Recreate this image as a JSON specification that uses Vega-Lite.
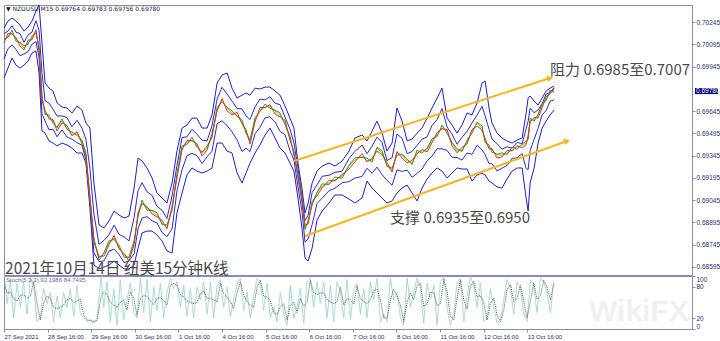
{
"$schema": "https://vega.github.io/schema/vega-lite/v6.json",
"padding": {"left": 1, "top": 2, "right": 0, "bottom": 0},
"background": "white",
"spacing": 1,
"bounds": "flush",
"resolve": {"scale": {"color": "independent", "strokeDash": "independent", "strokeWidth": "independent"}},
"config": {
  "view": {"stroke": "#8a8ab8", "strokeWidth": 1},
  "axis": {"labelFont": "Liberation Sans", "labelFontSize": 6.5, "labelColor": "#2c2c6c", "domainColor": "#8a8ab8", "tickColor": "#8a8ab8", "grid": false}
},
"datasets": {
"px": [
{"h":0,"u":0.70205,"l":0.69868,"m":0.70117,"g":0.70132,"r":0.70105,"b1":0.70167,"b2":0.69995},
{"h":2.2,"u":0.70252,"l":0.69935,"m":0.70151,"g":0.70141,"r":0.70169,"b1":0.70184,"b2":0.70066},
{"h":4.4,"u":0.70272,"l":0.70003,"m":0.70171,"g":0.70191,"r":0.70166,"b1":0.70221,"b2":0.70090},
{"h":6.6,"u":0.70252,"l":0.69955,"m":0.70131,"g":0.70116,"r":0.70141,"b1":0.70177,"b2":0.70060},
{"h":8.8,"u":0.70225,"l":0.69935,"m":0.70104,"g":0.70109,"r":0.70084,"b1":0.70168,"b2":0.70018},
{"h":11.0,"u":0.70184,"l":0.69955,"m":0.70070,"g":0.70085,"r":0.70058,"b1":0.70109,"b2":0.70030},
{"h":13.2,"u":0.70211,"l":0.69982,"m":0.70104,"g":0.70094,"r":0.70122,"b1":0.70157,"b2":0.70044},
{"h":15.4,"u":0.70252,"l":0.70036,"m":0.70131,"g":0.70151,"r":0.70126,"b1":0.70177,"b2":0.70096},
{"h":17.6,"u":0.70319,"l":0.70050,"m":0.70184,"g":0.70169,"r":0.70194,"b1":0.70255,"b2":0.70114},
{"h":19.3,"u":0.70360,"l":0.69902,"m":0.70070,"g":0.70075,"r":0.70050,"b1":0.70188,"b2":0.70006},
{"h":20.9,"u":0.70104,"l":0.69511,"m":0.69733,"g":0.69748,"r":0.69721,"b1":0.69905,"b2":0.69628},
{"h":22.6,"u":0.69834,"l":0.69497,"m":0.69632,"g":0.69622,"r":0.69650,"b1":0.69715,"b2":0.69579},
{"h":24.8,"u":0.69800,"l":0.69444,"m":0.69598,"g":0.69618,"r":0.69593,"b1":0.69699,"b2":0.69519},
{"h":27.0,"u":0.69780,"l":0.69430,"m":0.69578,"g":0.69563,"r":0.69588,"b1":0.69657,"b2":0.69523},
{"h":29.2,"u":0.69700,"l":0.69410,"m":0.69531,"g":0.69536,"r":0.69511,"b1":0.69612,"b2":0.69472},
{"h":31.9,"u":0.69673,"l":0.69430,"m":0.69578,"g":0.69593,"r":0.69566,"b1":0.69613,"b2":0.69519},
{"h":34.7,"u":0.69666,"l":0.69417,"m":0.69531,"g":0.69521,"r":0.69549,"b1":0.69602,"b2":0.69470},
{"h":37.4,"u":0.69632,"l":0.69396,"m":0.69484,"g":0.69504,"r":0.69479,"b1":0.69539,"b2":0.69456},
{"h":40.2,"u":0.69679,"l":0.69363,"m":0.69497,"g":0.69482,"r":0.69507,"b1":0.69584,"b2":0.69432},
{"h":42.9,"u":0.69652,"l":0.69363,"m":0.69444,"g":0.69449,"r":0.69424,"b1":0.69530,"b2":0.69416},
{"h":45.1,"u":0.69565,"l":0.69295,"m":0.69349,"g":0.69364,"r":0.69337,"b1":0.69456,"b2":0.69315},
{"h":47.3,"u":0.69531,"l":0.68992,"m":0.69060,"g":0.69050,"r":0.69078,"b1":0.69260,"b2":0.69041},
{"h":49.5,"u":0.69161,"l":0.68608,"m":0.68770,"g":0.68790,"r":0.68765,"b1":0.68951,"b2":0.68692},
{"h":52.3,"u":0.68878,"l":0.68582,"m":0.68656,"g":0.68641,"r":0.68666,"b1":0.68748,"b2":0.68631},
{"h":55.1,"u":0.68858,"l":0.68595,"m":0.68689,"g":0.68694,"r":0.68669,"b1":0.68775,"b2":0.68637},
{"h":57.8,"u":0.68905,"l":0.68608,"m":0.68757,"g":0.68772,"r":0.68745,"b1":0.68812,"b2":0.68702},
{"h":60.6,"u":0.68972,"l":0.68635,"m":0.68790,"g":0.68780,"r":0.68808,"b1":0.68877,"b2":0.68715},
{"h":63.3,"u":0.68945,"l":0.68608,"m":0.68723,"g":0.68743,"r":0.68718,"b1":0.68815,"b2":0.68679},
{"h":66.1,"u":0.68925,"l":0.68582,"m":0.68676,"g":0.68661,"r":0.68686,"b1":0.68798,"b2":0.68624},
{"h":68.8,"u":0.68938,"l":0.68582,"m":0.68656,"g":0.68661,"r":0.68636,"b1":0.68771,"b2":0.68635},
{"h":71.6,"u":0.69127,"l":0.68608,"m":0.68757,"g":0.68772,"r":0.68745,"b1":0.68929,"b2":0.68685},
{"h":73.8,"u":0.69329,"l":0.68723,"m":0.68945,"g":0.68935,"r":0.68963,"b1":0.69110,"b2":0.68853},
{"h":76.0,"u":0.69309,"l":0.68824,"m":0.69026,"g":0.69046,"r":0.69021,"b1":0.69163,"b2":0.68925},
{"h":78.7,"u":0.69262,"l":0.68837,"m":0.68992,"g":0.68977,"r":0.69002,"b1":0.69102,"b2":0.68934},
{"h":81.5,"u":0.69194,"l":0.68837,"m":0.68972,"g":0.68977,"r":0.68952,"b1":0.69077,"b2":0.68906},
{"h":84.2,"u":0.69093,"l":0.68810,"m":0.68945,"g":0.68960,"r":0.68933,"b1":0.69004,"b2":0.68892},
{"h":87.0,"u":0.69060,"l":0.68770,"m":0.68891,"g":0.68881,"r":0.68909,"b1":0.68977,"b2":0.68827},
{"h":89.7,"u":0.69026,"l":0.68703,"m":0.68858,"g":0.68878,"r":0.68853,"b1":0.68922,"b2":0.68800},
{"h":92.5,"u":0.69161,"l":0.68689,"m":0.68992,"g":0.68977,"r":0.69002,"b1":0.69073,"b2":0.68851},
{"h":95.2,"u":0.69376,"l":0.68959,"m":0.69215,"g":0.69220,"r":0.69195,"b1":0.69279,"b2":0.69108},
{"h":98.0,"u":0.69531,"l":0.69093,"m":0.69396,"g":0.69411,"r":0.69384,"b1":0.69467,"b2":0.69250},
{"h":100.7,"u":0.69551,"l":0.69215,"m":0.69430,"g":0.69420,"r":0.69448,"b1":0.69472,"b2":0.69345},
{"h":103.5,"u":0.69598,"l":0.69262,"m":0.69450,"g":0.69470,"r":0.69445,"b1":0.69522,"b2":0.69360},
{"h":106.2,"u":0.69598,"l":0.69241,"m":0.69417,"g":0.69402,"r":0.69427,"b1":0.69490,"b2":0.69346},
{"h":109.0,"u":0.69531,"l":0.69228,"m":0.69363,"g":0.69368,"r":0.69343,"b1":0.69449,"b2":0.69292},
{"h":111.8,"u":0.69531,"l":0.69241,"m":0.69396,"g":0.69411,"r":0.69384,"b1":0.69445,"b2":0.69338},
{"h":114.5,"u":0.69619,"l":0.69262,"m":0.69477,"g":0.69467,"r":0.69495,"b1":0.69546,"b2":0.69375},
{"h":117.3,"u":0.69834,"l":0.69430,"m":0.69652,"g":0.69672,"r":0.69647,"b1":0.69726,"b2":0.69560},
{"h":120.0,"u":0.69888,"l":0.69430,"m":0.69720,"g":0.69705,"r":0.69730,"b1":0.69806,"b2":0.69580},
{"h":122.8,"u":0.69902,"l":0.69376,"m":0.69666,"g":0.69671,"r":0.69646,"b1":0.69760,"b2":0.69548},
{"h":125.5,"u":0.69800,"l":0.69363,"m":0.69632,"g":0.69647,"r":0.69620,"b1":0.69713,"b2":0.69506},
{"h":128.3,"u":0.69733,"l":0.69228,"m":0.69619,"g":0.69609,"r":0.69637,"b1":0.69662,"b2":0.69451},
{"h":131.0,"u":0.69753,"l":0.69161,"m":0.69565,"g":0.69585,"r":0.69560,"b1":0.69660,"b2":0.69373},
{"h":133.2,"u":0.69767,"l":0.69228,"m":0.69511,"g":0.69496,"r":0.69521,"b1":0.69614,"b2":0.69396},
{"h":135.4,"u":0.69753,"l":0.69295,"m":0.69444,"g":0.69449,"r":0.69424,"b1":0.69588,"b2":0.69372},
{"h":138.2,"u":0.69800,"l":0.69363,"m":0.69585,"g":0.69600,"r":0.69573,"b1":0.69674,"b2":0.69493},
{"h":140.9,"u":0.69794,"l":0.69417,"m":0.69652,"g":0.69642,"r":0.69670,"b1":0.69726,"b2":0.69536},
{"h":143.7,"u":0.69807,"l":0.69484,"m":0.69673,"g":0.69693,"r":0.69668,"b1":0.69721,"b2":0.69600},
{"h":146.4,"u":0.69807,"l":0.69531,"m":0.69679,"g":0.69664,"r":0.69689,"b1":0.69742,"b2":0.69607},
{"h":149.2,"u":0.69780,"l":0.69464,"m":0.69646,"g":0.69651,"r":0.69626,"b1":0.69698,"b2":0.69572},
{"h":151.9,"u":0.69753,"l":0.69396,"m":0.69619,"g":0.69634,"r":0.69607,"b1":0.69689,"b2":0.69509},
{"h":154.7,"u":0.69679,"l":0.69363,"m":0.69565,"g":0.69555,"r":0.69583,"b1":0.69604,"b2":0.69486},
{"h":157.4,"u":0.69598,"l":0.69295,"m":0.69457,"g":0.69477,"r":0.69452,"b1":0.69525,"b2":0.69379},
{"h":159.6,"u":0.69531,"l":0.69241,"m":0.69363,"g":0.69348,"r":0.69373,"b1":0.69431,"b2":0.69316},
{"h":161.8,"u":0.69295,"l":0.69060,"m":0.69215,"g":0.69220,"r":0.69195,"b1":0.69261,"b2":0.69135},
{"h":164.0,"u":0.69127,"l":0.68858,"m":0.69046,"g":0.69061,"r":0.69034,"b1":0.69070,"b2":0.68973},
{"h":165.7,"u":0.68959,"l":0.68656,"m":0.68858,"g":0.68848,"r":0.68876,"b1":0.68908,"b2":0.68762},
{"h":167.4,"u":0.69026,"l":0.68635,"m":0.68891,"g":0.68911,"r":0.68886,"b1":0.68944,"b2":0.68784},
{"h":169.6,"u":0.69161,"l":0.68723,"m":0.69026,"g":0.69011,"r":0.69036,"b1":0.69097,"b2":0.68880},
{"h":172.3,"u":0.69241,"l":0.68911,"m":0.69093,"g":0.69098,"r":0.69073,"b1":0.69148,"b2":0.69023},
{"h":175.1,"u":0.69275,"l":0.68972,"m":0.69140,"g":0.69155,"r":0.69128,"b1":0.69206,"b2":0.69059},
{"h":178.9,"u":0.69295,"l":0.69026,"m":0.69161,"g":0.69151,"r":0.69179,"b1":0.69213,"b2":0.69108},
{"h":182.2,"u":0.69275,"l":0.69080,"m":0.69181,"g":0.69201,"r":0.69176,"b1":0.69233,"b2":0.69126},
{"h":186.1,"u":0.69309,"l":0.69080,"m":0.69208,"g":0.69193,"r":0.69218,"b1":0.69241,"b2":0.69162},
{"h":189.9,"u":0.69376,"l":0.69053,"m":0.69275,"g":0.69280,"r":0.69255,"b1":0.69325,"b2":0.69170},
{"h":193.2,"u":0.69464,"l":0.69026,"m":0.69316,"g":0.69331,"r":0.69304,"b1":0.69375,"b2":0.69194},
{"h":197.1,"u":0.69484,"l":0.69060,"m":0.69342,"g":0.69332,"r":0.69360,"b1":0.69416,"b2":0.69205},
{"h":199.8,"u":0.69444,"l":0.69174,"m":0.69309,"g":0.69329,"r":0.69304,"b1":0.69358,"b2":0.69260},
{"h":202.6,"u":0.69511,"l":0.69127,"m":0.69316,"g":0.69301,"r":0.69326,"b1":0.69409,"b2":0.69226},
{"h":205.3,"u":0.69578,"l":0.69093,"m":0.69396,"g":0.69401,"r":0.69376,"b1":0.69470,"b2":0.69268},
{"h":208.1,"u":0.69497,"l":0.69060,"m":0.69363,"g":0.69378,"r":0.69351,"b1":0.69433,"b2":0.69217},
{"h":210.8,"u":0.69376,"l":0.69026,"m":0.69282,"g":0.69272,"r":0.69300,"b1":0.69312,"b2":0.69179},
{"h":213.6,"u":0.69430,"l":0.69040,"m":0.69241,"g":0.69261,"r":0.69236,"b1":0.69331,"b2":0.69146},
{"h":216.3,"u":0.69666,"l":0.69093,"m":0.69363,"g":0.69348,"r":0.69373,"b1":0.69491,"b2":0.69249},
{"h":219.1,"u":0.69578,"l":0.69127,"m":0.69349,"g":0.69354,"r":0.69329,"b1":0.69462,"b2":0.69239},
{"h":221.9,"u":0.69444,"l":0.69147,"m":0.69309,"g":0.69324,"r":0.69297,"b1":0.69358,"b2":0.69248},
{"h":224.6,"u":0.69457,"l":0.69093,"m":0.69295,"g":0.69285,"r":0.69313,"b1":0.69373,"b2":0.69199},
{"h":227.4,"u":0.69497,"l":0.69040,"m":0.69363,"g":0.69383,"r":0.69358,"b1":0.69415,"b2":0.69226},
{"h":230.1,"u":0.69531,"l":0.69127,"m":0.69376,"g":0.69361,"r":0.69386,"b1":0.69456,"b2":0.69254},
{"h":232.9,"u":0.69598,"l":0.69188,"m":0.69390,"g":0.69395,"r":0.69370,"b1":0.69472,"b2":0.69311},
{"h":235.6,"u":0.69666,"l":0.69228,"m":0.69444,"g":0.69459,"r":0.69432,"b1":0.69549,"b2":0.69342},
{"h":238.4,"u":0.69733,"l":0.69262,"m":0.69484,"g":0.69474,"r":0.69502,"b1":0.69588,"b2":0.69392},
{"h":241.1,"u":0.69800,"l":0.69241,"m":0.69531,"g":0.69551,"r":0.69526,"b1":0.69662,"b2":0.69391},
{"h":243.9,"u":0.69598,"l":0.69194,"m":0.69511,"g":0.69496,"r":0.69521,"b1":0.69538,"b2":0.69380},
{"h":246.6,"u":0.69551,"l":0.69228,"m":0.69430,"g":0.69435,"r":0.69410,"b1":0.69489,"b2":0.69334},
{"h":249.4,"u":0.69497,"l":0.69262,"m":0.69376,"g":0.69391,"r":0.69364,"b1":0.69422,"b2":0.69333},
{"h":252.1,"u":0.69551,"l":0.69255,"m":0.69383,"g":0.69373,"r":0.69401,"b1":0.69469,"b2":0.69315},
{"h":254.9,"u":0.69632,"l":0.69255,"m":0.69430,"g":0.69450,"r":0.69425,"b1":0.69509,"b2":0.69363},
{"h":257.6,"u":0.69619,"l":0.69174,"m":0.69511,"g":0.69496,"r":0.69521,"b1":0.69565,"b2":0.69354},
{"h":260.4,"u":0.69700,"l":0.69215,"m":0.69565,"g":0.69570,"r":0.69545,"b1":0.69618,"b2":0.69415},
{"h":263.1,"u":0.69834,"l":0.69228,"m":0.69531,"g":0.69546,"r":0.69519,"b1":0.69677,"b2":0.69385},
{"h":264.8,"u":0.69848,"l":0.69215,"m":0.69444,"g":0.69434,"r":0.69462,"b1":0.69614,"b2":0.69353},
{"h":267.0,"u":0.69666,"l":0.69174,"m":0.69396,"g":0.69416,"r":0.69391,"b1":0.69523,"b2":0.69291},
{"h":268.6,"u":0.69565,"l":0.69161,"m":0.69383,"g":0.69368,"r":0.69393,"b1":0.69457,"b2":0.69291},
{"h":271.4,"u":0.69497,"l":0.69134,"m":0.69349,"g":0.69354,"r":0.69329,"b1":0.69426,"b2":0.69242},
{"h":274.1,"u":0.69464,"l":0.69127,"m":0.69349,"g":0.69364,"r":0.69337,"b1":0.69389,"b2":0.69261},
{"h":276.9,"u":0.69444,"l":0.69188,"m":0.69363,"g":0.69353,"r":0.69381,"b1":0.69404,"b2":0.69279},
{"h":279.7,"u":0.69430,"l":0.69241,"m":0.69383,"g":0.69403,"r":0.69378,"b1":0.69396,"b2":0.69327},
{"h":282.4,"u":0.69450,"l":0.69262,"m":0.69403,"g":0.69388,"r":0.69413,"b1":0.69434,"b2":0.69330},
{"h":285.2,"u":0.69464,"l":0.69262,"m":0.69417,"g":0.69422,"r":0.69397,"b1":0.69426,"b2":0.69359},
{"h":287.4,"u":0.69632,"l":0.69060,"m":0.69430,"g":0.69445,"r":0.69418,"b1":0.69526,"b2":0.69258},
{"h":288.5,"u":0.69733,"l":0.68972,"m":0.69464,"g":0.69454,"r":0.69482,"b1":0.69577,"b2":0.69251},
{"h":289.6,"u":0.69747,"l":0.69161,"m":0.69578,"g":0.69598,"r":0.69573,"b1":0.69664,"b2":0.69380},
{"h":291.8,"u":0.69713,"l":0.69262,"m":0.69592,"g":0.69577,"r":0.69602,"b1":0.69634,"b2":0.69455},
{"h":294.0,"u":0.69686,"l":0.69430,"m":0.69619,"g":0.69624,"r":0.69599,"b1":0.69654,"b2":0.69529},
{"h":296.2,"u":0.69733,"l":0.69531,"m":0.69679,"g":0.69694,"r":0.69667,"b1":0.69695,"b2":0.69620},
{"h":298.4,"u":0.69780,"l":0.69578,"m":0.69726,"g":0.69716,"r":0.69744,"b1":0.69760,"b2":0.69649},
{"h":300.6,"u":0.69800,"l":0.69619,"m":0.69767,"g":0.69787,"r":0.69762,"b1":0.69770,"b2":0.69712},
{"h":302.8,"u":0.69814,"l":0.69652,"m":0.69787,"g":0.69772,"r":0.69797,"b1":0.69804,"b2":0.69721}
],
"st": [
{"h":0.7,"k":89,"d":80},{"h":1.7,"k":48,"d":68},{"h":3.5,"k":93,"d":70},{"h":5.3,"k":21,"d":57},{"h":7.2,"k":86,"d":53},
{"h":9.0,"k":41,"d":63},{"h":10.8,"k":89,"d":65},{"h":12.7,"k":28,"d":58},{"h":14.5,"k":96,"d":62},{"h":16.3,"k":82,"d":89},
{"h":18.2,"k":14,"d":48},{"h":20.0,"k":21,"d":17},{"h":21.8,"k":76,"d":48},{"h":23.7,"k":48,"d":62},{"h":25.5,"k":69,"d":58},
{"h":27.3,"k":14,"d":41},{"h":29.2,"k":62,"d":38},{"h":31.0,"k":21,"d":41},{"h":32.8,"k":69,"d":45},{"h":34.7,"k":41,"d":55},
{"h":36.5,"k":76,"d":58},{"h":38.4,"k":24,"d":50},{"h":40.2,"k":82,"d":53},{"h":42.0,"k":31,"d":56},{"h":43.9,"k":21,"d":26},
{"h":45.7,"k":14,"d":17},{"h":47.5,"k":18,"d":16},{"h":49.4,"k":11,"d":14},{"h":51.2,"k":21,"d":16},{"h":53.4,"k":99,"d":60},
{"h":54.9,"k":41,"d":70},{"h":56.7,"k":89,"d":65},{"h":58.5,"k":14,"d":51},{"h":60.4,"k":76,"d":45},{"h":62.2,"k":7,"d":41},
{"h":64.0,"k":93,"d":50},{"h":65.9,"k":18,"d":55},{"h":67.7,"k":55,"d":36},{"h":69.5,"k":86,"d":70},{"h":71.4,"k":31,"d":58},
{"h":73.2,"k":21,"d":26},{"h":75.1,"k":96,"d":58},{"h":76.9,"k":31,"d":63},{"h":78.7,"k":93,"d":62},{"h":80.6,"k":14,"d":53},
{"h":82.4,"k":79,"d":46},{"h":84.2,"k":35,"d":57},{"h":86.1,"k":86,"d":60},{"h":87.9,"k":21,"d":53},{"h":89.7,"k":69,"d":45},
{"h":91.6,"k":96,"d":82},{"h":93.4,"k":76,"d":86},{"h":95.2,"k":89,"d":82},{"h":97.1,"k":41,"d":65},{"h":98.9,"k":82,"d":61},
{"h":100.7,"k":24,"d":53},{"h":102.6,"k":76,"d":50},{"h":104.4,"k":21,"d":48},{"h":106.2,"k":79,"d":50},{"h":108.1,"k":55,"d":67},
{"h":109.9,"k":89,"d":72},{"h":111.8,"k":28,"d":58},{"h":113.6,"k":89,"d":58},{"h":115.4,"k":21,"d":55},{"h":117.3,"k":82,"d":51},
{"h":119.1,"k":93,"d":87},{"h":120.9,"k":41,"d":67},{"h":122.8,"k":79,"d":60},{"h":124.6,"k":24,"d":51},{"h":126.4,"k":55,"d":39},
{"h":128.3,"k":82,"d":68},{"h":130.1,"k":96,"d":89},{"h":131.9,"k":35,"d":65},{"h":133.8,"k":69,"d":52},{"h":135.6,"k":21,"d":45},
{"h":137.4,"k":62,"d":41},{"h":139.3,"k":96,"d":79},{"h":141.1,"k":89,"d":92},{"h":142.9,"k":35,"d":62},{"h":144.8,"k":86,"d":60},
{"h":146.6,"k":21,"d":53},{"h":148.5,"k":41,"d":31},{"h":150.3,"k":14,"d":27},{"h":152.1,"k":69,"d":41},{"h":154.0,"k":28,"d":48},
{"h":155.8,"k":7,"d":17},{"h":157.6,"k":82,"d":44},{"h":159.5,"k":21,"d":51},{"h":161.3,"k":41,"d":31},{"h":163.1,"k":76,"d":58},
{"h":165.0,"k":11,"d":43},{"h":166.8,"k":89,"d":50},{"h":168.6,"k":96,"d":92},{"h":170.5,"k":41,"d":68},{"h":172.3,"k":89,"d":65},
{"h":174.1,"k":48,"d":68},{"h":176.0,"k":89,"d":68},{"h":177.8,"k":21,"d":55},{"h":179.7,"k":82,"d":51},{"h":181.5,"k":14,"d":48},
{"h":183.3,"k":89,"d":51},{"h":185.2,"k":69,"d":79},{"h":187.0,"k":21,"d":45},{"h":188.8,"k":93,"d":57},{"h":190.7,"k":18,"d":55},
{"h":192.5,"k":76,"d":47},{"h":194.3,"k":86,"d":81},{"h":196.2,"k":28,"d":57},
{"h":198.0,"k":76,"d":52},{"h":199.9,"k":21,"d":48},{"h":201.7,"k":89,"d":55},{"h":203.5,"k":55,"d":72},{"h":205.4,"k":96,"d":75},
{"h":207.2,"k":14,"d":55},{"h":209.0,"k":28,"d":21},{"h":210.9,"k":14,"d":21},{"h":212.7,"k":96,"d":55},{"h":214.5,"k":55,"d":75},
{"h":216.4,"k":69,"d":62},{"h":218.2,"k":21,"d":45},{"h":220.0,"k":7,"d":14},{"h":221.9,"k":96,"d":51},{"h":223.7,"k":41,"d":68},
{"h":225.5,"k":69,"d":55},{"h":227.4,"k":96,"d":82},{"h":229.2,"k":76,"d":86},{"h":231.0,"k":11,"d":43},{"h":232.9,"k":86,"d":48},
{"h":234.7,"k":55,"d":70},{"h":236.6,"k":82,"d":68},{"h":238.4,"k":7,"d":44},{"h":240.2,"k":89,"d":48},{"h":242.1,"k":99,"d":94},
{"h":243.9,"k":41,"d":70},{"h":245.7,"k":7,"d":24},{"h":247.6,"k":28,"d":17},{"h":249.4,"k":89,"d":58},{"h":251.2,"k":96,"d":92},
{"h":253.1,"k":14,"d":55},{"h":254.9,"k":62,"d":38},{"h":256.7,"k":99,"d":80},{"h":258.6,"k":82,"d":90},{"h":260.4,"k":41,"d":61},
{"h":262.2,"k":86,"d":63},{"h":264.1,"k":14,"d":50},{"h":265.9,"k":21,"d":17},{"h":267.7,"k":76,"d":48},{"h":269.6,"k":41,"d":58},
{"h":271.4,"k":11,"d":26},{"h":273.3,"k":18,"d":14},{"h":275.1,"k":55,"d":36},{"h":276.9,"k":93,"d":74},{"h":278.8,"k":76,"d":84},
{"h":280.6,"k":28,"d":52},{"h":282.4,"k":89,"d":58},{"h":284.3,"k":76,"d":82},{"h":286.1,"k":28,"d":52},{"h":287.9,"k":14,"d":21},
{"h":289.8,"k":93,"d":53},{"h":291.6,"k":82,"d":87},{"h":293.4,"k":31,"d":56},{"h":295.3,"k":96,"d":63},{"h":297.1,"k":89,"d":92},
{"h":298.9,"k":69,"d":79},{"h":300.8,"k":30,"d":55},{"h":302.6,"k":92,"d":85}
],
"chan": [
{"line":"resist","h":159.6,"p":0.69309},{"line":"resist","h":300.6,"p":0.69868},
{"line":"support","h":165.7,"p":0.68804},{"line":"support","h":309.9,"p":0.69444}
],
"ann": [
{"kind":"level","h":300.6,"p":0.69922,"txt":"阻力 0.6985至0.7007"},
{"kind":"level","h":212.5,"p":0.68925,"txt":"支撑 0.6935至0.6950"},
{"kind":"title","h":0.6,"p":0.68582,"txt":"2021年10月14日 纽美15分钟K线"},
{"kind":"head","h":1.1,"p":0.70333,"txt":"▼ NZDUSD,M15  0.69764 0.69783 0.69756 0.69780"},
{"kind":"bid","h":378.7,"p":0.6978,"txt":"0.69780"}
],
"stann": [
{"kind":"wm","h":322,"v":32,"txt":"WikiFX"},
{"kind":"lab","h":1.1,"v":92,"txt":"Stoch(5,3,3) 92.1986 84.7435"}
],
"lv": [{"lvl":20},{"lvl":80}]
},
"vconcat": [
{
"width": 688, "height": 270,
"encoding": {
  "x": {"field": "h", "type": "quantitative", "scale": {"domain": [0, 378.7], "nice": false, "zero": false}, "axis": null},
  "y": {"field": "p", "type": "quantitative", "scale": {"domain": [0.68541, 0.7036], "nice": false, "zero": false},
        "axis": {"orient": "right", "title": null, "values": [0.68595,0.68745,0.68895,0.69045,0.69195,0.69345,0.69495,0.69645,0.69945,0.70095,0.70245], "format": ".5f", "tickSize": 3, "labelPadding": 1}}
},
"layer": [
  {"data": {"values": [{}]}, "mark": {"type": "rule", "color": "#c6c6c6", "strokeWidth": 1.5},
   "encoding": {"x": {"datum": 0}, "x2": {"datum": 378.7}, "y": {"datum": 0.6978}}},
  {"data": {"name": "px"}, "transform": [{"fold": ["u", "l", "b1", "b2", "m", "g", "r"], "as": ["s", "p"]}],
   "mark": {"type": "line", "interpolate": "linear"},
   "encoding": {
     "color": {"field": "s", "type": "nominal", "legend": null,
       "scale": {"domain": ["u", "l", "b1", "b2", "m", "g", "r"], "range": ["#1e1ec8", "#1e1ec8", "#2a2ad0", "#2a2ad0", "#d9a21c", "#1e9e28", "#d8342a"]}},
     "strokeWidth": {"field": "s", "type": "nominal", "legend": null,
       "scale": {"domain": ["u", "l", "b1", "b2", "m", "g", "r"], "range": [1, 1, 1, 1, 1.3, 1.3, 1.3]}}}},
  {"data": {"name": "chan"}, "mark": {"type": "line", "color": "#f7b421", "strokeWidth": 2},
   "encoding": {"detail": {"field": "line"}}},
  {"data": {"name": "chan"}, "transform": [{"filter": "datum.line == 'resist' && datum.h > 250"}],
   "mark": {"type": "point", "shape": "triangle-right", "filled": true, "color": "#f7b421", "opacity": 1, "size": 45, "angle": 342}},
  {"data": {"name": "chan"}, "transform": [{"filter": "datum.line == 'support' && datum.h > 250"}],
   "mark": {"type": "point", "shape": "triangle-right", "filled": true, "color": "#f7b421", "opacity": 1, "size": 45, "angle": 340}},
  {"data": {"name": "ann"}, "transform": [{"filter": "datum.kind == 'level'"}],
   "mark": {"type": "text", "align": "left", "baseline": "middle", "font": "Noto Sans CJK SC", "fontSize": 15, "color": "#4a4a4a"},
   "encoding": {"text": {"field": "txt"}}},
  {"data": {"name": "ann"}, "transform": [{"filter": "datum.kind == 'title'"}],
   "mark": {"type": "text", "align": "left", "baseline": "middle", "font": "Noto Sans CJK SC", "fontSize": 15.5, "color": "#4a4a4a"},
   "encoding": {"text": {"field": "txt"}}},
  {"data": {"name": "ann"}, "transform": [{"filter": "datum.kind == 'head'"}],
   "mark": {"type": "text", "align": "left", "baseline": "middle", "font": "DejaVu Sans", "fontSize": 6, "color": "#1a1a40"},
   "encoding": {"text": {"field": "txt"}}},
  {"data": {"name": "ann"}, "transform": [{"filter": "datum.kind == 'bid'"}],
   "mark": {"type": "point", "shape": "M0.26,-0.26L2.26,-0.26L2.26,0.26L0.26,0.26Z", "size": 529, "filled": true, "color": "#000080", "opacity": 1}},
  {"data": {"name": "ann"}, "transform": [{"filter": "datum.kind == 'bid'"}],
   "mark": {"type": "text", "align": "left", "baseline": "middle", "dx": 4, "font": "Liberation Sans", "fontSize": 6.5, "color": "white"},
   "encoding": {"text": {"field": "txt"}}}
]
},
{
"width": 688, "height": 53,
"encoding": {
  "x": {"field": "h", "type": "quantitative", "scale": {"domain": [0, 378.7], "nice": false, "zero": false},
        "axis": {"orient": "bottom", "title": null, "values": [0,24,48,72,96,120,144,168,192,216,240,264,288],
                 "labelExpr": "['27 Sep 2021','28 Sep 16:00','29 Sep 16:00','30 Sep 16:00','1 Oct 16:00','4 Oct 16:00','5 Oct 16:00','6 Oct 16:00','7 Oct 16:00','8 Oct 16:00','11 Oct 16:00','12 Oct 16:00','13 Oct 16:00'][round(datum.value/24)]",
                 "labelAlign": "left", "labelFlush": false, "labelOverlap": false, "tickSize": 3, "labelPadding": 1, "labelFontSize": 6}},
  "y": {"field": "v", "type": "quantitative", "scale": {"domain": [0, 100], "nice": false, "zero": false},
        "axis": {"orient": "right", "title": null, "values": [0, 20, 80, 100], "tickSize": 3, "labelPadding": 1, "labelFlush": true}}
},
"layer": [
  {"data": {"name": "stann"}, "transform": [{"filter": "datum.kind == 'wm'"}],
   "mark": {"type": "text", "align": "left", "baseline": "middle", "font": "Liberation Sans", "fontWeight": "bold", "fontSize": 30, "color": "#f0f0f0"},
   "encoding": {"text": {"field": "txt"}}},
  {"data": {"name": "lv"}, "mark": {"type": "rule", "color": "#d6d6c4", "strokeWidth": 1},
   "encoding": {"x": {"datum": 0}, "x2": {"datum": 378.7}, "y": {"field": "lvl", "type": "quantitative"}}},
  {"data": {"name": "st"}, "transform": [{"fold": ["k", "d"], "as": ["s", "v"]}],
   "mark": {"type": "line", "strokeWidth": 1},
   "encoding": {
     "color": {"field": "s", "type": "nominal", "legend": null, "scale": {"domain": ["k", "d"], "range": ["#9fd6cf", "#555555"]}},
     "strokeDash": {"field": "s", "type": "nominal", "legend": null, "scale": {"domain": ["k", "d"], "range": [[1, 0], [1, 1]]}}}},
  {"data": {"name": "stann"}, "transform": [{"filter": "datum.kind == 'lab'"}],
   "mark": {"type": "text", "align": "left", "baseline": "middle", "font": "Liberation Sans", "fontSize": 6, "color": "#5a6a9a"},
   "encoding": {"text": {"field": "txt"}}}
]
}
]
}
